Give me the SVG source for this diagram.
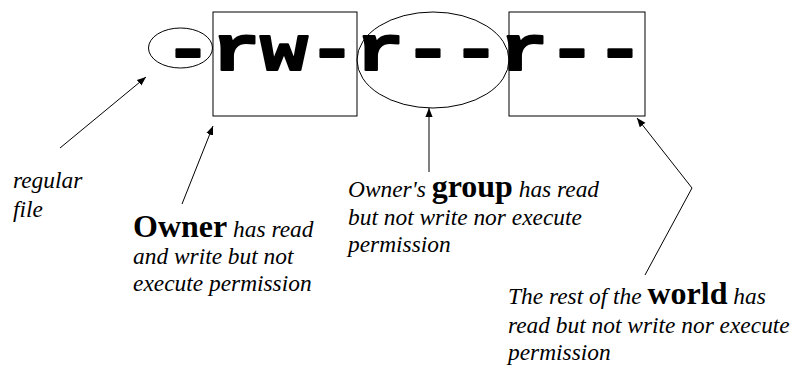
<svg xmlns="http://www.w3.org/2000/svg" width="798" height="369" viewBox="0 0 798 369">
<style>
.sh{fill:none;stroke:#000;stroke-width:1}
.cn{fill:none;stroke:#000;stroke-width:1}
.perm{fill:#000;stroke:#000;stroke-width:2.5;stroke-linejoin:round}
</style>
<defs>
<marker id="ah" viewBox="0 0 10 10" refX="10" refY="5" markerWidth="9" markerHeight="9" markerUnits="userSpaceOnUse" orient="auto">
<path d="M0,1 L10,5 L0,9 Z" fill="#000"/>
</marker>
</defs>
<g id="permstring" transform="translate(164,70) scale(1,0.8)">
<text class="perm" x="0" y="0" font-family="Liberation Mono" font-weight="bold" font-size="80">-rw-r--r--</text>
</g>
<g id="type-marker"><ellipse class="sh" cx="180.5" cy="48" rx="32" ry="20"/></g>
<g id="owner-box"><rect class="sh" x="213" y="12" width="144" height="104"/></g>
<g id="group-ellipse"><ellipse class="sh" cx="433" cy="60" rx="76" ry="48"/></g>
<g id="world-box"><rect class="sh" x="509" y="12" width="136" height="104"/></g>
<g id="connectors">
<line class="cn" x1="60" y1="148" x2="146" y2="77" marker-end="url(#ah)"/>
<line class="cn" x1="182" y1="204" x2="213" y2="126" marker-end="url(#ah)"/>
<line class="cn" x1="429" y1="172" x2="429" y2="108" marker-end="url(#ah)"/>
<polyline class="cn" points="645,275 692,188 637,118" marker-end="url(#ah)"/>
</g>
<g id="label-regular">
<text x="13" y="188" font-family="Liberation Serif" font-style="italic" font-size="23.4">regular</text>
<text x="13" y="217" font-family="Liberation Serif" font-style="italic" font-size="23.4">file</text>
</g>
<g id="label-owner">
<text x="133" y="237" font-family="Liberation Serif" font-style="italic" font-size="23.4"><tspan font-style="normal" font-weight="bold" font-size="32">Owner</tspan> has read</text>
<text x="133" y="264" font-family="Liberation Serif" font-style="italic" font-size="23.4">and write but not</text>
<text x="133" y="291" font-family="Liberation Serif" font-style="italic" font-size="23.4">execute permission</text>
</g>
<g id="label-group">
<text x="348" y="197" font-family="Liberation Serif" font-style="italic" font-size="23.4">Owner's <tspan font-style="normal" font-weight="bold" font-size="32">group</tspan> has read</text>
<text x="348" y="225" font-family="Liberation Serif" font-style="italic" font-size="23.4">but not write nor execute</text>
<text x="348" y="252" font-family="Liberation Serif" font-style="italic" font-size="23.4">permission</text>
</g>
<g id="label-world">
<text x="508" y="304" font-family="Liberation Serif" font-style="italic" font-size="23.4">The rest of the <tspan font-style="normal" font-weight="bold" font-size="32">world</tspan> has</text>
<text x="508" y="333" font-family="Liberation Serif" font-style="italic" font-size="23.4">read but not write nor execute</text>
<text x="508" y="360" font-family="Liberation Serif" font-style="italic" font-size="23.4">permission</text>
</g>
</svg>
